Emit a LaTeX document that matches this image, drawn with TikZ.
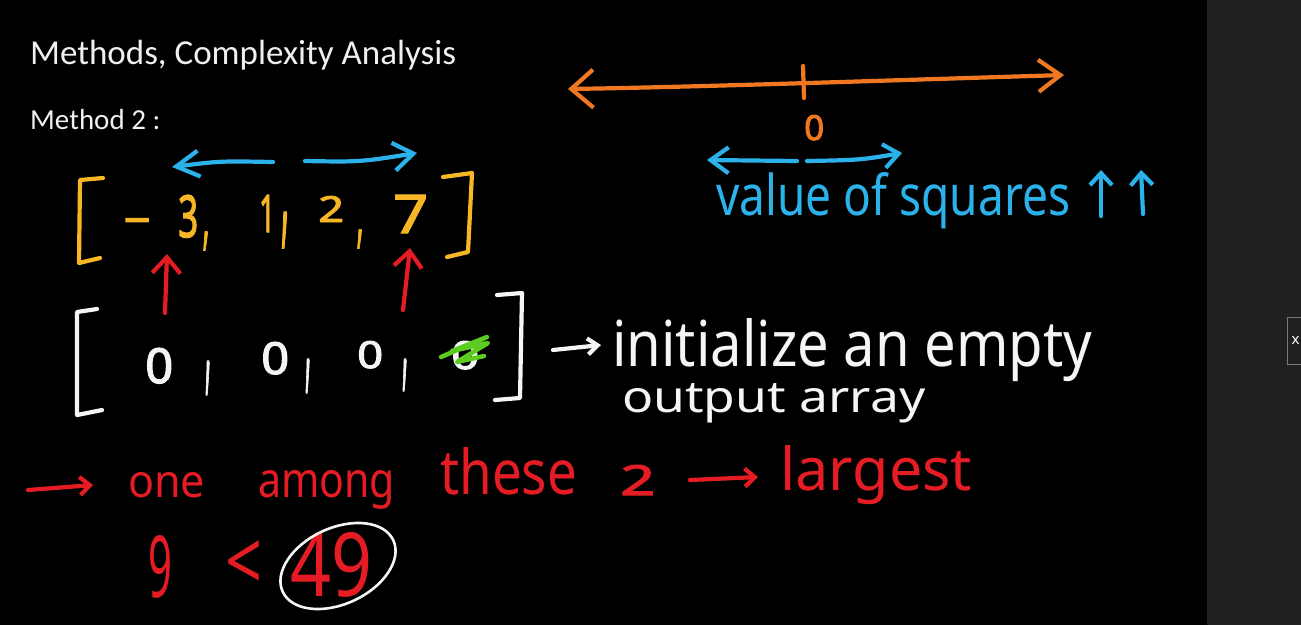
\documentclass[tikz,border=0pt]{standalone}
\usepackage{fontspec}
\usepackage{graphicx}
\setmainfont{Noto Sans}
\newfontfamily\titlefont{Carlito}
\newfontfamily\heavyfont{Noto Sans}[FakeBold=2.5]
\usetikzlibrary{arrows.meta}
\definecolor{orangeC}{RGB}{240,120,32}
\definecolor{blueC}{RGB}{43,178,234}
\definecolor{yellowC}{RGB}{246,182,38}
\definecolor{redC}{RGB}{229,28,36}
\definecolor{greenC}{RGB}{92,204,32}
\definecolor{inkW}{RGB}{245,245,245}
\definecolor{titleW}{RGB}{240,240,240}
\definecolor{stripC}{RGB}{31,32,34}
\definecolor{boxC}{RGB}{122,122,122}
\newcommand\hw[3]{\resizebox{#1pt}{#2pt}{#3}}
\newcommand\hwt[3]{\resizebox*{#1pt}{#2pt}{#3}}
\begin{document}
\begin{tikzpicture}[x=1pt,y=-1pt,
  stroke/.style={line width=4.2pt,line cap=round,line join=round},
  txt/.style={inner sep=0pt,anchor=base west},
  mid/.style={inner sep=0pt,anchor=center,font=\heavyfont},
  dig/.style={inner sep=0pt,anchor=base west,font=\heavyfont}]
\useasboundingbox (0,0) rectangle (1301,625);
\fill[black] (0,0) rectangle (1207,625);
\fill[stripC] (1207,0) rectangle (1301,625);
\draw[boxC,line width=1pt] (1287.5,317.5) rectangle (1312,364);
\node[inner sep=0pt,text=white,font=\bfseries\fontsize{15}{15}\selectfont] (close) at (1295.5,340) {x};

% titles
\node[txt,text=titleW,font=\titlefont\fontsize{35}{35}\selectfont] (title) at (30,64) {Methods, Complexity Analysis};
\node[txt,text=titleW,font=\titlefont\fontsize{29}{29}\selectfont] (method) at (30,129) {Method 2 :};

% orange number line
\coordinate (oL) at (568,89);
\coordinate (oR) at (1064,75);
\coordinate (oT1) at (803,66);
\coordinate (oT2) at (804,98);
\draw[stroke,orangeC,{Straight Barb[length=22pt,width=38pt]}-{Straight Barb[length=22pt,width=32pt]}] (oL) .. controls (700,87) and (900,80) .. (oR);
\draw[stroke,orangeC] (oT1) -- (oT2);
\node[dig,text=orangeC] (zero) at (804,140) {\hw{20}{25}{0}};

% blue small arrows
\coordinate (bm1) at (797,161);
\coordinate (bl) at (707,160);
\coordinate (bm2) at (807,161);
\coordinate (br) at (902,153);
\draw[stroke,blueC,-{Straight Barb[length=18pt,width=26pt]}] (bm1) -- (bl);
\draw[stroke,blueC,-{Straight Barb[length=15pt,width=24pt]}] (bm2) .. controls (860,160) .. (br);
\node[txt,text=blueC] (value) at (716,215) {\hw{354}{43}{value of squares}};
\coordinate (ua1s) at (1101,216);
\coordinate (ua1e) at (1101,170);
\coordinate (ua2s) at (1143,214);
\coordinate (ua2e) at (1141,170);
\draw[stroke,blueC,-{Straight Barb[length=12pt,width=22pt]}] (ua1s) -- (ua1e);
\draw[stroke,blueC,-{Straight Barb[length=12pt,width=22pt]}] (ua2s) -- (ua2e);

% yellow array
\draw[stroke,yellowC] (103,178) -- (80,180) -- (79,263) -- (100,258);
\draw[stroke,yellowC] (443,177) -- (472,173) -- (468,252) -- (447,257);
\node[anchor=base,inner sep=0pt,text=yellowC,font=\heavyfont\fontsize{44}{44}\selectfont] (minus) at (137,232) {\scalebox{2}[1]{-}};
\node[dig,text=yellowC] (n3) at (178,237) {\hw{20}{42}{3}};
\node[mid,text=yellowC] (c1) at (206,241) {\hwt{7}{18}{,}};
\node[dig,text=yellowC] (n1) at (259,232) {\hw{16}{37}{1}};
\node[mid,text=yellowC] (c2) at (285,230) {\hwt{8}{34}{,}};
\node[dig,text=yellowC] (n2) at (318,222) {\hw{26}{26}{2}};
\node[mid,text=yellowC] (c3) at (360,239) {\hwt{7}{18}{,}};
\node[dig,text=yellowC] (n7) at (393,233) {\hw{35}{38}{7}};

% blue arrows over yellow array
\coordinate (ya1s) at (273,162);
\coordinate (ya1e) at (172,167);
\coordinate (ya2s) at (305,161);
\coordinate (ya2e) at (417,153);
\draw[stroke,blueC,-{Straight Barb[length=23pt,width=26pt]}] (ya1s) .. controls (220,161) .. (ya1e);
\draw[stroke,blueC,-{Straight Barb[length=20pt,width=28pt]}] (ya2s) .. controls (360,162) .. (ya2e);

% red up arrows
\coordinate (ra1s) at (165,313);
\coordinate (ra1e) at (167,254);
\coordinate (ra2s) at (403,310);
\coordinate (ra2e) at (410,248);
\draw[stroke,redC,-{Straight Barb[length=16pt,width=28pt]}] (ra1s) -- (ra1e);
\draw[stroke,redC,-{Straight Barb[length=16pt,width=28pt]}] (ra2s) -- (ra2e);

% white array
\draw[stroke,inkW] (97,309) -- (77,312) -- (77,415) -- (102,410);
\draw[stroke,inkW] (497,295) -- (522,293) -- (520,398) -- (495,400);
\node[dig,text=inkW] (z1) at (145,383) {\hw{28}{35}{0}};
\node[mid,text=inkW] (wc1) at (208,378) {\hwt{6}{32}{,}};
\node[dig,text=inkW] (z2) at (261,374) {\hw{28}{32}{0}};
\node[mid,text=inkW] (wc2) at (308,376) {\hwt{6}{32}{,}};
\node[dig,text=inkW] (z3) at (357,368) {\hw{26}{27}{0}};
\node[mid,text=inkW] (wc3) at (405,375) {\hwt{6}{30}{,}};
\node[dig,text=inkW] (z4) at (451,369) {\hw{28}{28}{0}};
\draw[line width=4.5pt,greenC,line cap=round,line join=round] (441,357) -- (487,337) -- (452,351) -- (488,343) -- (457,362) -- (484,356);

% white note
\coordinate (wa1) at (553,350);
\coordinate (wa2) at (601,345);
\draw[stroke,inkW,-{Straight Barb[length=10pt,width=16pt]}] (wa1) -- (wa2);
\node[txt,text=inkW] (init) at (612,366) {\hw{480}{48}{initialize an empty}};
\node[txt,text=inkW] (output) at (622,412) {\hw{303}{29}{output array}};

% red line
\coordinate (r1s) at (28,490);
\coordinate (r1e) at (93,485);
\draw[stroke,redC,-{Straight Barb[length=10pt,width=18pt]}] (r1s) -- (r1e);
\node[txt,text=redC] (one) at (128,497) {\hw{77}{25}{one}};
\node[txt,text=redC] (among) at (258,497) {\hw{137}{27}{among}};
\node[txt,text=redC] (these) at (440,494) {\hw{137}{47}{these}};
\node[dig,text=redC] (two) at (620,495) {\hw{35}{30}{2}};
\coordinate (r2s) at (690,480);
\coordinate (r2e) at (758,477);
\draw[stroke,redC,-{Straight Barb[length=10pt,width=18pt]}] (r2s) -- (r2e);
\node[txt,text=redC] (largest) at (780,490) {\hw{192}{45}{largest}};

% 9 < 49
\node[txt,text=redC] (nine) at (148,597) {\hw{24}{62}{9}};
\node[txt,text=redC] (lt) at (225,590) {\hw{37}{50}{<}};
\node[txt,text=redC] (fn) at (290,596) {\hw{82}{64}{49}};
\coordinate (ec) at (338,566);
\draw[line width=2.6pt,inkW] (ec) ellipse [x radius=61, y radius=38, rotate=25];
\end{tikzpicture}
\end{document}
